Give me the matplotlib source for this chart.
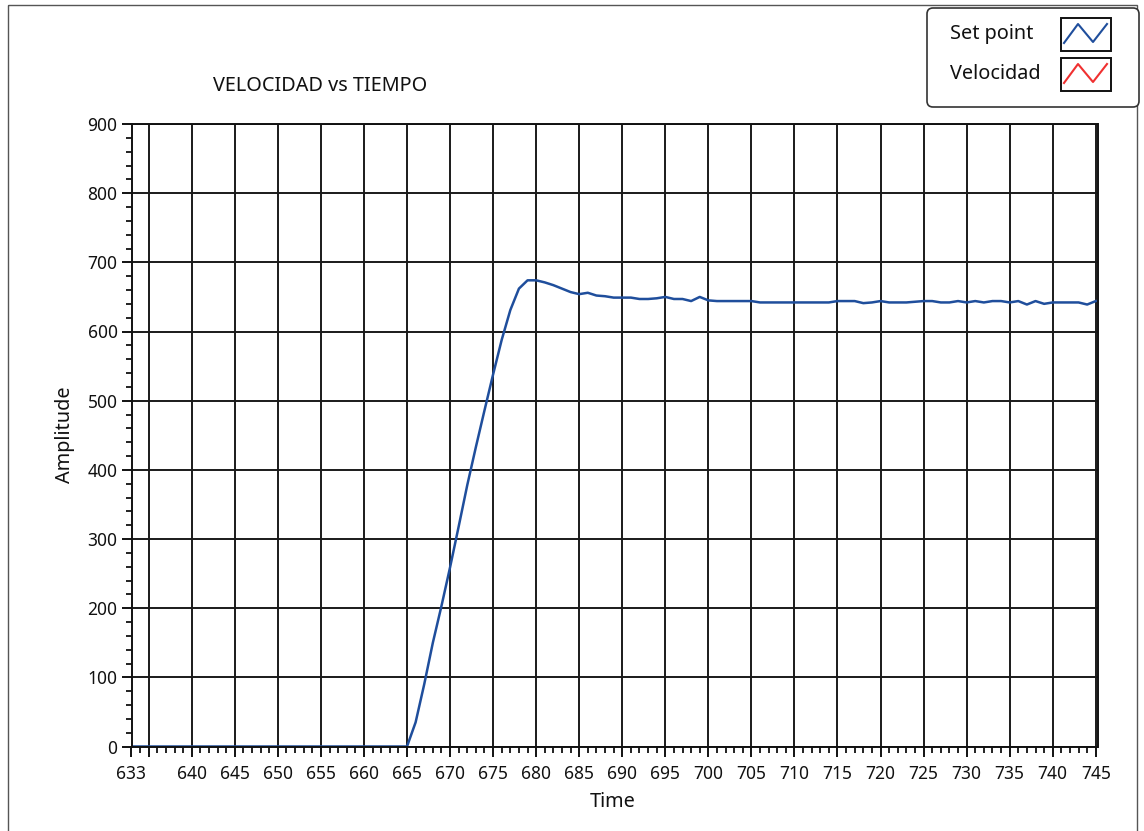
import matplotlib
matplotlib.use("Agg")
import matplotlib.pyplot as plt
from matplotlib.patches import FancyBboxPatch, Rectangle
from matplotlib.ticker import MultipleLocator, FixedLocator, FixedFormatter

plt.rcParams['font.family'] = ['Noto Sans', 'DejaVu Sans']

# Sample times (one sample per second) and the recorded set-point trace
time = list(range(633, 746))
set_point = (
    [0] * 33 +                                    # 633 .. 665
    [35, 90, 150, 203, 259, 318, 378, 433, 486,   # 666 .. 674
     538, 588, 631, 662, 674, 674, 671, 667, 662, # 675 .. 683
     657, 654, 656, 652, 651, 649, 649, 649, 647, # 684 .. 692
     647, 648, 650, 647, 647, 644, 650, 645, 644, # 693 .. 701
     644, 644, 644, 644, 642, 642, 642, 642, 642, # 702 .. 710
     642, 642, 642, 642, 644, 644, 644, 641, 642, # 711 .. 719
     644, 642, 642, 642, 643, 644, 644, 642, 642, # 720 .. 728
     644, 642, 644, 642, 644, 644, 642, 644, 639, # 729 .. 737
     644, 640, 642, 642, 642, 642, 639, 644]      # 738 .. 745
)

x_tick_values = [633, 635] + list(range(640, 746, 5))
x_tick_labels = ['633', ''] + [str(v) for v in range(640, 746, 5)]
y_tick_values = list(range(0, 901, 100))

legend_names = ['Set point', 'Velocidad']
legend_colors = ['#1f4e9c', '#f03030']

W, H = 1144, 831
fig = plt.figure(figsize=(W / 100, H / 100), dpi=100)
fig.patch.set_facecolor('white')

ax_l, ax_r, ax_t, ax_b = 131.5, 1097.5, 124.0, 746.5
ax = fig.add_axes([ax_l / W, 1 - ax_b / H, (ax_r - ax_l) / W, (ax_b - ax_t) / H])

ax.plot(time, set_point, color=legend_colors[0], lw=1.8, zorder=2,
        solid_joinstyle='round')

ax.set_xlim(633, 745.2)
ax.set_ylim(0, 900)

ax.xaxis.set_major_locator(FixedLocator(x_tick_values))
ax.xaxis.set_major_formatter(FixedFormatter(x_tick_labels))
ax.xaxis.set_minor_locator(MultipleLocator(1))
ax.yaxis.set_major_locator(FixedLocator(y_tick_values))
ax.yaxis.set_minor_locator(MultipleLocator(20))

ax.grid(True, which='major', color='#1a1a1a', lw=1.4)
ax.set_axisbelow(True)
for s in ax.spines.values():
    s.set_color('#111111')
    s.set_linewidth(1.4)
    s.set_zorder(2.5)

ax.tick_params(axis='both', which='major', labelsize=12.5, colors='#111111',
               length=7, width=1.4, direction='out')
ax.tick_params(axis='both', which='minor', length=4, width=1.3,
               color='#111111', direction='out')
ax.tick_params(axis='x', which='major', pad=6)
ax.tick_params(axis='y', which='major', pad=3)

# Overlay in pixel units for the panel frame, title and legend
ov = fig.add_axes([0, 0, 1, 1], zorder=5)
ov.set_xlim(0, W)
ov.set_ylim(H, 0)
ov.axis('off')
ov.patch.set_alpha(0)

ov.add_patch(Rectangle((8, 5), 1129, 840, fill=False, ec='#555555', lw=1.0))

label_size = 14.3
ov.text(213, 86, 'VELOCIDAD vs TIEMPO', fontsize=label_size, ha='left',
        va='center', color='#111111')
ov.text(65, 435, 'Amplitude', fontsize=label_size, rotation=90, ha='center',
        va='center', color='#111111')
ov.text(613, 802, 'Time', fontsize=label_size, ha='center', va='center',
        color='#111111')

ov.add_patch(FancyBboxPatch((927, 8), 212, 99,
                            boxstyle='round,pad=0,rounding_size=6',
                            fc='white', ec='#333333', lw=1.2))
for i, (name, col) in enumerate(zip(legend_names, legend_colors)):
    y0 = 18 + 40 * i
    ov.text(950, y0 + 16, name, fontsize=label_size, ha='left', va='center',
            color='#111111')
    ov.add_patch(Rectangle((1061, y0), 50, 33, fill=False, ec='#111111', lw=1.4))
    ov.plot([1064, 1078, 1093, 1107], [y0 + 25, y0 + 6, y0 + 24, y0 + 6],
            color=col, lw=1.5)

fig.savefig('out.png', dpi=100)
